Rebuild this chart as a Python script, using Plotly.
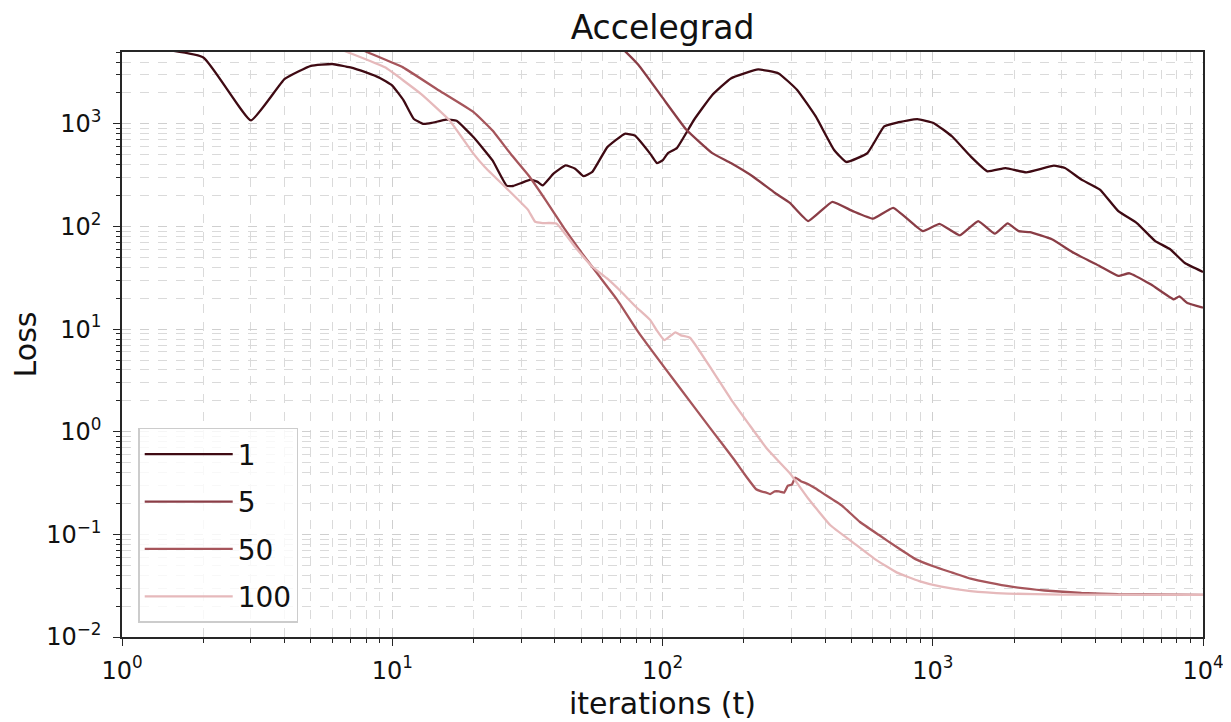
import plotly.graph_objects as go

# ---------------- data ----------------
t_1 = [1, 2, 3, 4, 5, 6, 7, 8, 9, 10, 11, 12, 13, 14, 15.8, 17.3, 20, 23.5, 26.5, 28, 30,
       32.5, 34.5, 36, 39.5, 43.8, 47.5, 51, 55, 62.5, 72.5, 79, 90, 95.4, 100, 104.8, 113,
       130.7, 152.8, 179, 226, 269, 315, 369, 431, 479, 573, 661, 738, 877, 1010, 1180,
       1381, 1592, 1863, 2217, 2807, 3085, 3550, 4155, 4860, 5690, 6660, 7560, 8570, 10000]
loss_1 = [6000, 4440, 1080, 2740, 3680, 3830, 3550, 3170, 2800, 2360, 1700, 1120, 1000, 1020,
          1100, 1070, 740, 440, 250, 248, 265, 286, 272, 251, 327, 394, 366, 309, 340, 593,
          800, 770, 513, 415, 440, 519, 580, 1090, 1910, 2770, 3390, 3100, 2140, 1180, 560,
          425, 519, 943, 1030, 1110, 1015, 753, 482, 345, 371, 337, 391, 371, 286, 229, 141,
          108, 72, 60, 44, 36]

t_5 = [1, 10, 30, 50, 60, 70, 81.5, 100, 122.6, 152.8, 179, 216, 261, 296, 346, 425, 506,
       601, 714, 919, 1059, 1259, 1473, 1697, 1893, 2081, 2287, 2760, 3335, 4155, 4860,
       5340, 6450, 7800, 8170, 8750, 10000]
loss_5 = [40000, 30000, 18000, 11000, 8000, 5600, 3740, 1800, 875, 518, 415, 307, 212, 170,
          113, 174, 141, 119, 152, 90, 106, 82, 113, 85, 107, 90, 88, 75, 55, 41, 33, 35, 27,
          19.5, 20.8, 18, 16.2]

t_50 = [1, 2, 3, 4, 5, 6, 7, 8.3, 10.96, 14.9, 20, 23.5, 27.4, 31.9, 37, 43.3, 50.4, 58.5,
        68, 81.5, 111.6, 152.8, 184.6, 205, 222, 232, 242, 250, 260, 270, 282, 291, 301,
        310, 325, 345, 369, 393, 460, 538, 631, 738, 863, 1010, 1180, 1381, 1616, 1954,
        2594, 3550, 4860, 10000]
loss_50 = [12000, 11000, 10500, 9800, 8700, 7200, 5900, 4850, 3550, 2110, 1300, 861, 511,
           316, 180, 95.7, 54.6, 32.5, 19.3, 9.3, 3.05, 1.02, 0.53, 0.36, 0.275, 0.262,
           0.255, 0.247, 0.262, 0.262, 0.255, 0.298, 0.305, 0.357, 0.33, 0.31, 0.28, 0.251,
           0.192, 0.132, 0.099, 0.0748, 0.0574, 0.0486, 0.0424, 0.037, 0.0338, 0.0309,
           0.0284, 0.0269, 0.0261, 0.0257]

t_100 = [1, 2, 3, 4, 5, 6, 6.7, 9.4, 12.8, 16.3, 20, 22, 26.5, 31.8, 33.8, 36, 40.5, 47.5,
         55, 62.5, 70.5, 79.5, 90, 95, 101.6, 111.6, 117, 126.6, 152.8, 179, 209, 245, 296,
         346, 419, 506, 611, 738, 891, 1075, 1381, 1893, 3000, 10000]
loss_100 = [9000, 8500, 8000, 7500, 6900, 5750, 5100, 3550, 1950, 1080, 510, 380, 235, 145,
            111, 108, 107, 63, 40.5, 31, 23, 16.6, 12.3, 9.8, 7.8, 9.3, 8.7, 8.2, 3.96, 2.08,
            1.18, 0.67, 0.394, 0.224, 0.122, 0.0837, 0.0574, 0.0424, 0.0351, 0.0309, 0.028,
            0.0265, 0.0259, 0.0257]

series_names = ["1", "5", "50", "100"]
series_colors = ["#3f0a13", "#8a3d46", "#a6555b", "#e6b9bb"]

x_tickvals = [1, 10, 100, 1000, 10000]
x_ticktext = ["10<sup>0</sup>", "10<sup>1</sup>", "10<sup>2</sup>", "10<sup>3</sup>", "10<sup>4</sup>"]
y_tickvals = [0.01, 0.1, 1, 10, 100, 1000]
y_ticktext = ["10<sup>\u22122</sup>", "10<sup>\u22121</sup>", "10<sup>0</sup>",
              "10<sup>1</sup>", "10<sup>2</sup>", "10<sup>3</sup>"]

# ---------------- figure ----------------
FONT = "DejaVu Sans"
fig = go.Figure()
all_t = [t_1, t_5, t_50, t_100]
all_l = [loss_1, loss_5, loss_50, loss_100]
for name, col, tt, ll in zip(series_names, series_colors, all_t, all_l):
    fig.add_trace(go.Scatter(x=tt, y=ll, mode="lines", name=name, legendgroup=name,
                             line=dict(color=col, width=2.3, shape="spline", smoothing=0.35)))

grid_major = "#cfcfcf"
grid_minor = "#dadada"
axis_common = dict(
    type="log", showline=True, mirror=True, linecolor="#262626", linewidth=1.5,
    ticks="outside", ticklen=7, tickwidth=1.3, tickcolor="#262626",
    showgrid=True, gridcolor=grid_major, griddash="dash", gridwidth=1,
    zeroline=False, automargin=False,
    tickfont=dict(family=FONT, size=24, color="#111111"),
    minor=dict(ticks="outside", ticklen=4, tickwidth=1, tickcolor="#262626",
               dtick="D1", showgrid=True, gridcolor=grid_minor, griddash="dash", gridwidth=1),
)

fig.update_xaxes(**axis_common, range=[0, 4], tickvals=x_tickvals, ticktext=x_ticktext,
                 ticklabelstandoff=4,
                 title=dict(text="iterations (t)", font=dict(family=FONT, size=30, color="#111111"),
                            standoff=9))
fig.update_yaxes(**axis_common, range=[-2, 3.7], tickvals=y_tickvals, ticktext=y_ticktext,
                 ticklabelstandoff=7,
                 title=dict(text="Loss", font=dict(family=FONT, size=30, color="#111111"),
                            standoff=6))

# the page body has an 8px margin, so the figure is 8px smaller and margins compensate
fig.update_layout(
    width=1223, height=714,
    margin=dict(l=114, r=28, t=44, b=85),
    paper_bgcolor="white", plot_bgcolor="white",
    font=dict(family=FONT, color="#111111"),
    title=dict(text="Accelegrad", x=0.5, xref="paper", xanchor="center",
               y=1 - 19 / 714, yref="container", yanchor="middle",
               font=dict(family=FONT, size=33, color="#111111")),
    legend=dict(x=0.015, y=0.024, xanchor="left", yanchor="bottom",
                bgcolor="rgba(255,255,255,0.8)", bordercolor="#cccccc", borderwidth=1.5,
                font=dict(family=FONT, size=28, color="#111111"),
                tracegroupgap=8, itemwidth=88),
    showlegend=True,
)

fig.write_html("out.html")
